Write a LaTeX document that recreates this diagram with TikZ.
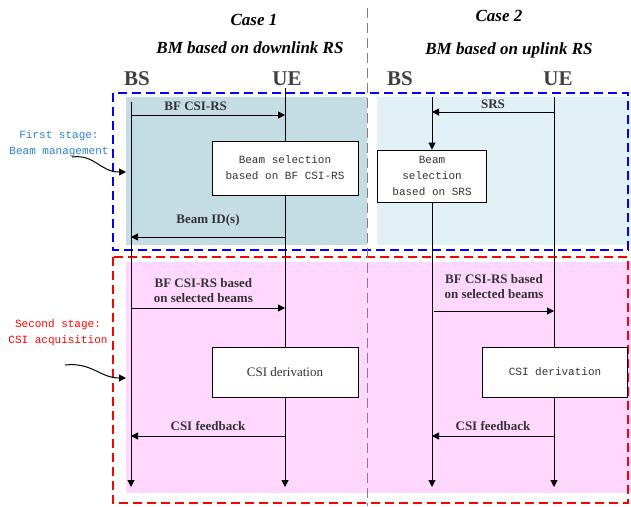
\documentclass[tikz,border=0pt]{standalone}
\usepackage{fontspec}
\setmainfont{Liberation Serif}
\setmonofont{Liberation Mono}
\usepackage{tikz}
\usetikzlibrary{positioning,arrows.meta}

\definecolor{bmteal}{HTML}{C4DDE3}
\definecolor{bmsky}{HTML}{E1F1F6}
\definecolor{csipink}{HTML}{FFD7FF}
\definecolor{stageblue}{HTML}{2A7FCC}

\tikzset{
  msg/.style={line width=1pt,-{Triangle[length=7pt,width=7pt]}},
  msgtext/.style={font=\fontsize{13}{15}\selectfont\bfseries,text=black!80,align=center},
  procbox/.style={draw,line width=0.9pt,fill=white,align=center,inner sep=0pt,
    font=\ttfamily\fontsize{11}{16}\selectfont,text=black!80},
  entity/.style={font=\fontsize{21}{22}\selectfont\bfseries,text=black!75},
  casetitle/.style={font=\fontsize{17}{18}\selectfont\bfseries\itshape},
  stagetext/.style={font=\ttfamily\fontsize{11}{16}\selectfont,align=center},
  stagebox/.style={line width=1.6pt,dash pattern=on 9pt off 5pt},
}

\begin{document}
\begin{tikzpicture}[x=1pt,y=-1pt]
                \useasboundingbox (0,0) rectangle (631,506);
                \fill[bmteal] (126,97) rectangle (367,245);
                \fill[bmsky] (377,97) rectangle (631,245);
                \fill[csipink] (126,262) rectangle (631,493);
                \draw[stagebox,blue] (113,93) rectangle (628,250);
                \draw[stagebox,red] (113,257) rectangle (628,503);
                \draw[gray,line width=1pt,dash pattern=on 10pt off 5pt] (367,8) -- (367,506);
                \node[casetitle] (caseA) at (254,20) {Case 1};
                \node[casetitle] (bmA) at (250,48) {BM based on downlink RS};
                \node[casetitle] (caseB) at (499,16) {Case 2};
                \node[casetitle] (bmB) at (509,50) {BM based on uplink RS};
                \node[entity] (bsA) at (137,79) {BS};
                \node[entity] (ueA) at (287,79) {UE};
                \node[entity] (bsB) at (400,79) {BS};
                \node[entity] (ueB) at (558,79) {UE};
                \coordinate (bsAtop) at (131,102);
                \coordinate (ueAtop) at (285,88);
                \coordinate (bsBtop) at (432,97);
                \coordinate (ueBtop) at (554,97);
                \foreach \y [count=\i] in {115,237,308,436} {
                  \coordinate (bsA\i) at (131,\y);
                  \coordinate (ueA\i) at (285,\y);
                }
                \foreach \y/\x [count=\i] in {112/432,237/432,311/434,436/432} {
                  \coordinate (bsB\i) at (\x,\y);
                  \coordinate (ueB\i) at (554,\y);
                }
                \draw[msg] (bsAtop) -- (bsAtop |- 0,487);
                \draw[msg] (ueAtop) -- (ueAtop |- 0,487);
                \draw[msg] (ueBtop) -- (ueBtop |- 0,487);
                \node[procbox,minimum width=146pt,minimum height=54pt] (selA) at (285,168) {Beam selection\\based on BF CSI-RS};
                \node[procbox,minimum width=109pt,minimum height=52pt] (selB) at (432,176) {Beam\\selection\\based on SRS};
                \node[procbox,minimum width=146pt,minimum height=50pt,font=\fontsize{13}{15}\selectfont] (derA) at (285,372) {CSI derivation};
                \node[procbox,minimum width=145pt,minimum height=50pt] (derB) at (555,372) {CSI derivation};
                \draw[msg] (bsBtop) -- (selB.north);
                \draw[msg] (selB.south) -- (selB.south |- 0,487);
                \draw[msg] (bsA1) -- node[msgtext,above=1pt,pos=0.42] (lblA1) {BF CSI-RS} (ueA1);
                \draw[msg] (ueA2) -- node[msgtext,above=7pt] (lblA2) {Beam ID(s)} (bsA2);
                \draw[msg] (bsA3) -- node[msgtext,above=2pt,pos=0.47] (lblA3) {BF CSI-RS based\\on selected beams} (ueA3);
                \draw[msg] (ueA4) -- node[msgtext,above=2pt] (lblA4) {CSI feedback} (bsA4);
                \draw[msg] (ueB1) -- node[msgtext,above=0pt] (lblB1) {SRS} (bsB1);
                \draw[msg] (bsB3) -- node[msgtext,above=9pt] (lblB3) {BF CSI-RS based\\on selected beams} (ueB3);
                \draw[msg] (ueB4) -- node[msgtext,above=2pt] (lblB4) {CSI feedback} (bsB4);
                \node[stagetext,text=stageblue] (first) at (59,144) {First stage:\\Beam management};
                \node[stagetext,text=red] (second) at (58,333) {Second stage:\\CSI acquisition};
                \coordinate (firstTail) at (72,157);
                \coordinate (firstTip) at (126,172);
                \coordinate (secondTail) at (65,365);
                \coordinate (secondTip) at (126,378);
                \draw[msg] (firstTail) .. controls (95,154) and (100,172) .. (firstTip);
                \draw[msg] (secondTail) .. controls (92,362) and (100,378) .. (secondTip);
            \end{tikzpicture}
\end{document}
